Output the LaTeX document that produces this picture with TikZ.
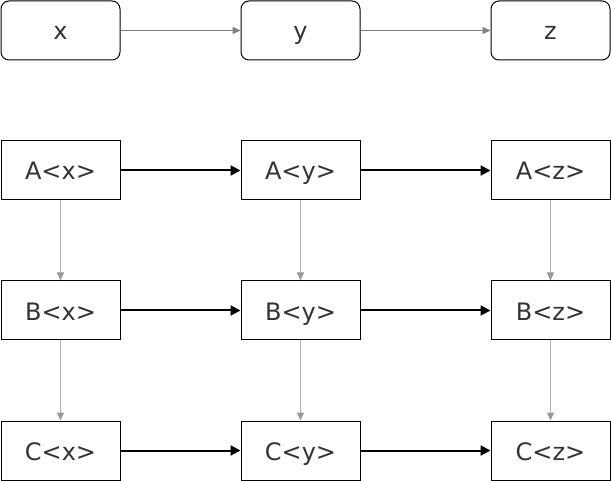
\documentclass[tikz,border=0pt]{standalone}
\usepackage{fontspec}
\setmainfont{DejaVu Sans}
\usetikzlibrary{arrows.meta}
\definecolor{txt}{HTML}{333333}
\definecolor{topline}{HTML}{808080}
\definecolor{vline}{HTML}{B3B3B3}
\definecolor{vhead}{HTML}{999999}
\tikzset{
  box/.style={draw=black, line width=1pt, minimum width=119pt, minimum height=59pt,
    inner sep=0pt, fill=white, text=txt, font=\fontsize{24}{28}\selectfont,
    text height=19pt, text depth=0pt},
  rbox/.style={box, rounded corners=8pt},
  toparrow/.style={draw=topline, line width=1pt, -{Triangle[length=8pt,width=7pt]}},
  rowarrow/.style={draw=black, line width=2pt, -{Triangle[length=10pt,width=10pt]}},
  colarrow/.style={draw=vline, line width=1pt, -{Triangle[length=8pt,width=7pt,color=vhead,fill=vhead]}}
}
\begin{document}
\begin{tikzpicture}[x=1pt,y=-1pt]
\useasboundingbox (0,0) rectangle (611,481);
\node[rbox] (x) at (60.5,30.5) {x};
\node[rbox] (y) at (300.5,30.5) {y};
\node[rbox] (z) at (550.5,30.5) {z};
\node[box] (Ax) at (60.5,170.5) {A<x>};
\node[box] (Ay) at (300.5,170.5) {A<y>};
\node[box] (Az) at (550.5,170.5) {A<z>};
\node[box] (Bx) at (60.5,310.5) {B<x>};
\node[box] (By) at (300.5,310.5) {B<y>};
\node[box] (Bz) at (550.5,310.5) {B<z>};
\node[box] (Cx) at (60.5,450.5) {C<x>};
\node[box] (Cy) at (300.5,450.5) {C<y>};
\node[box] (Cz) at (550.5,450.5) {C<z>};
\draw[toparrow] (x) -- (y);
\draw[toparrow] (y) -- (z);
\foreach \r in {A,B,C}{
  \draw[rowarrow] (\r x) -- (\r y);
  \draw[rowarrow] (\r y) -- (\r z);
}
\foreach \c in {x,y,z}{
  \draw[colarrow] (A\c) -- (B\c);
  \draw[colarrow] (B\c) -- (C\c);
}
\end{tikzpicture}
\end{document}
